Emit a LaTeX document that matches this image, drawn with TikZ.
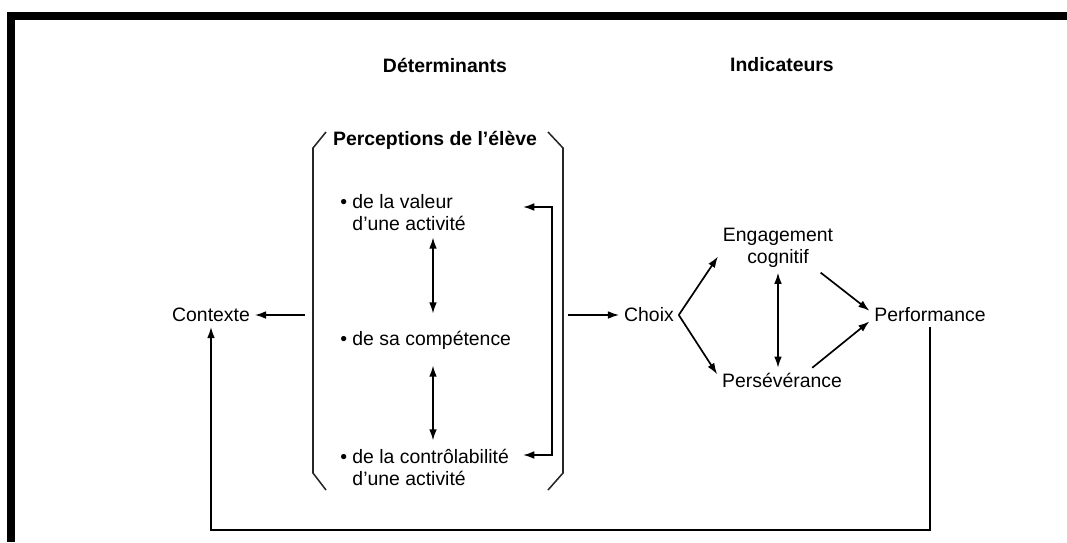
\documentclass[tikz,border=0pt]{standalone}
\usepackage{fontspec}
\setmainfont{Liberation Sans}
\usetikzlibrary{arrows.meta,calc}
\tikzstyle{lbl} = [font={\fontsize{13.8}{15.6}\selectfont}, align=center]
\tikzstyle{heading} = [lbl, font={\fontsize{13.8}{15.6}\selectfont\bfseries}]
\tikzstyle{percitem} = [lbl, align=left, anchor=west, inner sep=0pt]
\tikzstyle{conn} = [draw=black, line width=1.2pt, ->]
\tikzstyle{bothway} = [conn, <->]
\tikzstyle{brace} = [draw=black!85, line width=1.1pt]

\begin{document}
\begin{tikzpicture}[x=0.025cm, y=-0.025cm, >={Latex[length=8pt,width=5.5pt]}]
        \useasboundingbox (0,0) rectangle (1067,542);
        \fill[black] (7,12) rectangle (1067,20);
        \fill[black] (7,12) rectangle (15,542);
        \node[heading](det) at (445,65){Déterminants};
        \node[heading](ind) at (782,65){Indicateurs};
        \node[heading](perc) at (435,140){Perceptions de l’élève};
        \draw[brace] (326,132) -- (313,148) -- (313,473) -- (326,490);
        \draw[brace] (548,132) -- (563,148) -- (563,473) -- (548,490);
        \node[percitem](val) at (340,213){\textbullet\ de la valeur\\\hphantom{\textbullet\ }d’une activité};
        \node[percitem](comp) at (340,340){\textbullet\ de sa compétence};
        \node[percitem](ctrl) at (340,467){\textbullet\ de la contrôlabilité\\\hphantom{\textbullet\ }d’une activité};
        \node[lbl](ctx) at (211,315){Contexte};
        \node[lbl](choix) at (649,315){Choix};
        \node[lbl](eng) at (778,248){Engagement\\cognitif};
        \node[lbl](pers) at (782,380){Persévérance};
        \node[lbl](perf) at (930,315){Performance};
        \coordinate (axis) at (433,0);
        \coordinate (fb1) at (523,207);
        \coordinate (fb3) at (523,455);
        \coordinate (bl) at (305,315);
        \coordinate (br) at (568,315);
        \coordinate (base) at (0,530);
        \draw[bothway] ($(val.south -| axis)+(0,6)$) -- ($(comp.north -| axis)+(0,-17)$);
        \draw[bothway] ($(comp.south -| axis)+(0,16)$) -- ($(ctrl.north -| axis)+(0,-8)$);
        \draw[bothway] (fb1) -| ($(fb3)+(29,0)$) -- (fb3);
        \draw[conn] (bl) -- (ctx);
        \draw[conn] (br) -- (choix);
        \draw[conn] (choix.east) -- (eng.188);
        \draw[conn] (choix.east) -- (pers.175);
        \draw[bothway] (eng.south) -- (eng.south |- pers.north);
        \draw[conn] (eng.-30) -- (perf.176);
        \draw[conn] (pers.22) -- (perf.186);
        \draw[conn] (perf.south) -- (perf.south |- base) -| (ctx.south);
      \end{tikzpicture}
\end{document}
